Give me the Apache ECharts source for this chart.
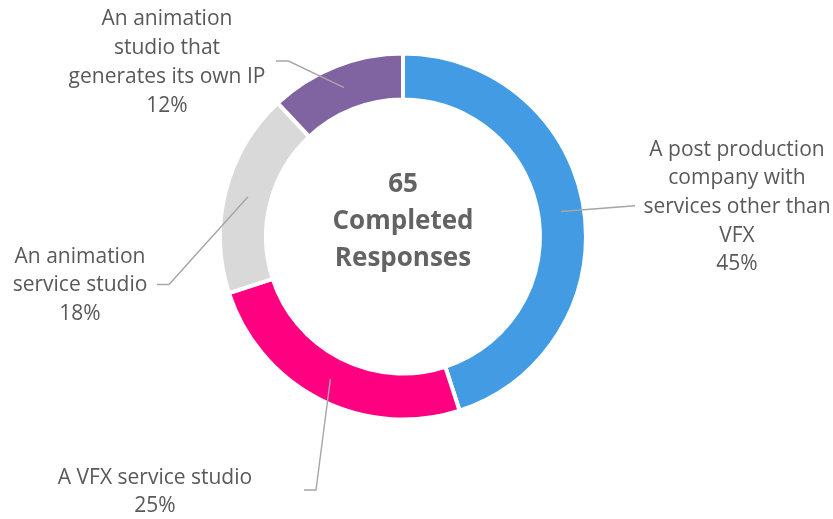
<!DOCTYPE html>
<html>
<head>
<meta charset="utf-8">
<script src="https://cdn.jsdelivr.net/npm/echarts@6/dist/echarts.min.js"></script>
<style>
  html, body { margin: 0; padding: 0; background: #ffffff; }
  #chart { width: 833px; height: 519px; }
</style>
</head>
<body>
<div id="chart"></div>
<script>
// Respondent company types (share of 65 completed responses)
const categories = [
  'A post production\ncompany with\nservices other than\nVFX',
  'A VFX service studio',
  'An animation\nservice studio',
  'An animation\nstudio that\ngenerates its own IP'
];
const shares = [45, 25, 18, 12];
const sliceColors = ['#439CE3', '#FF0080', '#D9D9D9', '#8064A2'];
const centerLines = ['65', 'Completed', 'Responses'];

// Ring geometry and label placement
const CENTER = [403, 236.5];
const RADIUS = [137, 183];
const LINE_START_R = 160;      // leader lines start mid-ring
const labelSpots = [
  { x: 737, y: 207,   bend: null,         end: [635, 205.7] },
  { x: 155, y: 492,   bend: [316, 490],   end: [304, 490] },
  { x: 80,  y: 285.5, bend: [169, 284.5], end: [157, 284.5] },
  { x: 167, y: 62.5,  bend: [288.5, 61],  end: [276, 61] }
];

const chart = echarts.init(document.getElementById('chart'), null, { renderer: 'canvas' });

const FONT = '"Open Sans", "Noto Sans", sans-serif';

chart.setOption({
  animation: false,
  backgroundColor: '#ffffff',
  graphic: [{
    type: 'text',
    x: CENTER[0],
    y: 221.7,
    silent: true,
    style: {
      text: centerLines.join('\n'),
      align: 'center',
      verticalAlign: 'middle',
      fontFamily: FONT,
      fontWeight: 'bold',
      fontSize: 26,
      lineHeight: 36.7,
      fill: '#636363'
    }
  }],
  series: [
    // the visible ring
    {
      type: 'pie',
      z: 2,
      center: CENTER,
      radius: RADIUS,
      startAngle: 90,
      clockwise: true,
      silent: true,
      itemStyle: { borderColor: '#ffffff', borderWidth: 4 },
      label: { show: false },
      labelLine: { show: false },
      data: categories.map((name, i) => ({
        name: name,
        value: shares[i],
        itemStyle: { color: sliceColors[i] }
      }))
    },
    // transparent twin that carries the labels, so leader lines sit on top of the ring
    {
      type: 'pie',
      z: 6,
      center: CENTER,
      radius: [0, LINE_START_R],
      startAngle: 90,
      clockwise: true,
      avoidLabelOverlap: false,
      silent: true,
      itemStyle: { color: 'rgba(0,0,0,0)', borderWidth: 0 },
      label: {
        show: true,
        position: 'outside',
        width: 240,
        overflow: 'none',
        align: 'center',
        fontFamily: FONT,
        fontSize: 21,
        lineHeight: 28.7,
        color: '#595959',
        formatter: p => p.name + '\n' + p.value + '%'
      },
      labelLine: {
        show: true,
        lineStyle: { color: '#A6A6A6', width: 1.4 }
      },
      labelLayout: params => {
        const spot = labelSpots[params.dataIndex];
        const start = params.labelLinePoints[0];
        const pts = spot.bend ? [start, spot.bend, spot.end] : [start, spot.end];
        return {
          x: spot.x,
          y: spot.y,
          align: 'center',
          verticalAlign: 'middle',
          labelLinePoints: pts
        };
      },
      data: categories.map((name, i) => ({ name: name, value: shares[i] }))
    }
  ]
});
</script>
</body>
</html>
